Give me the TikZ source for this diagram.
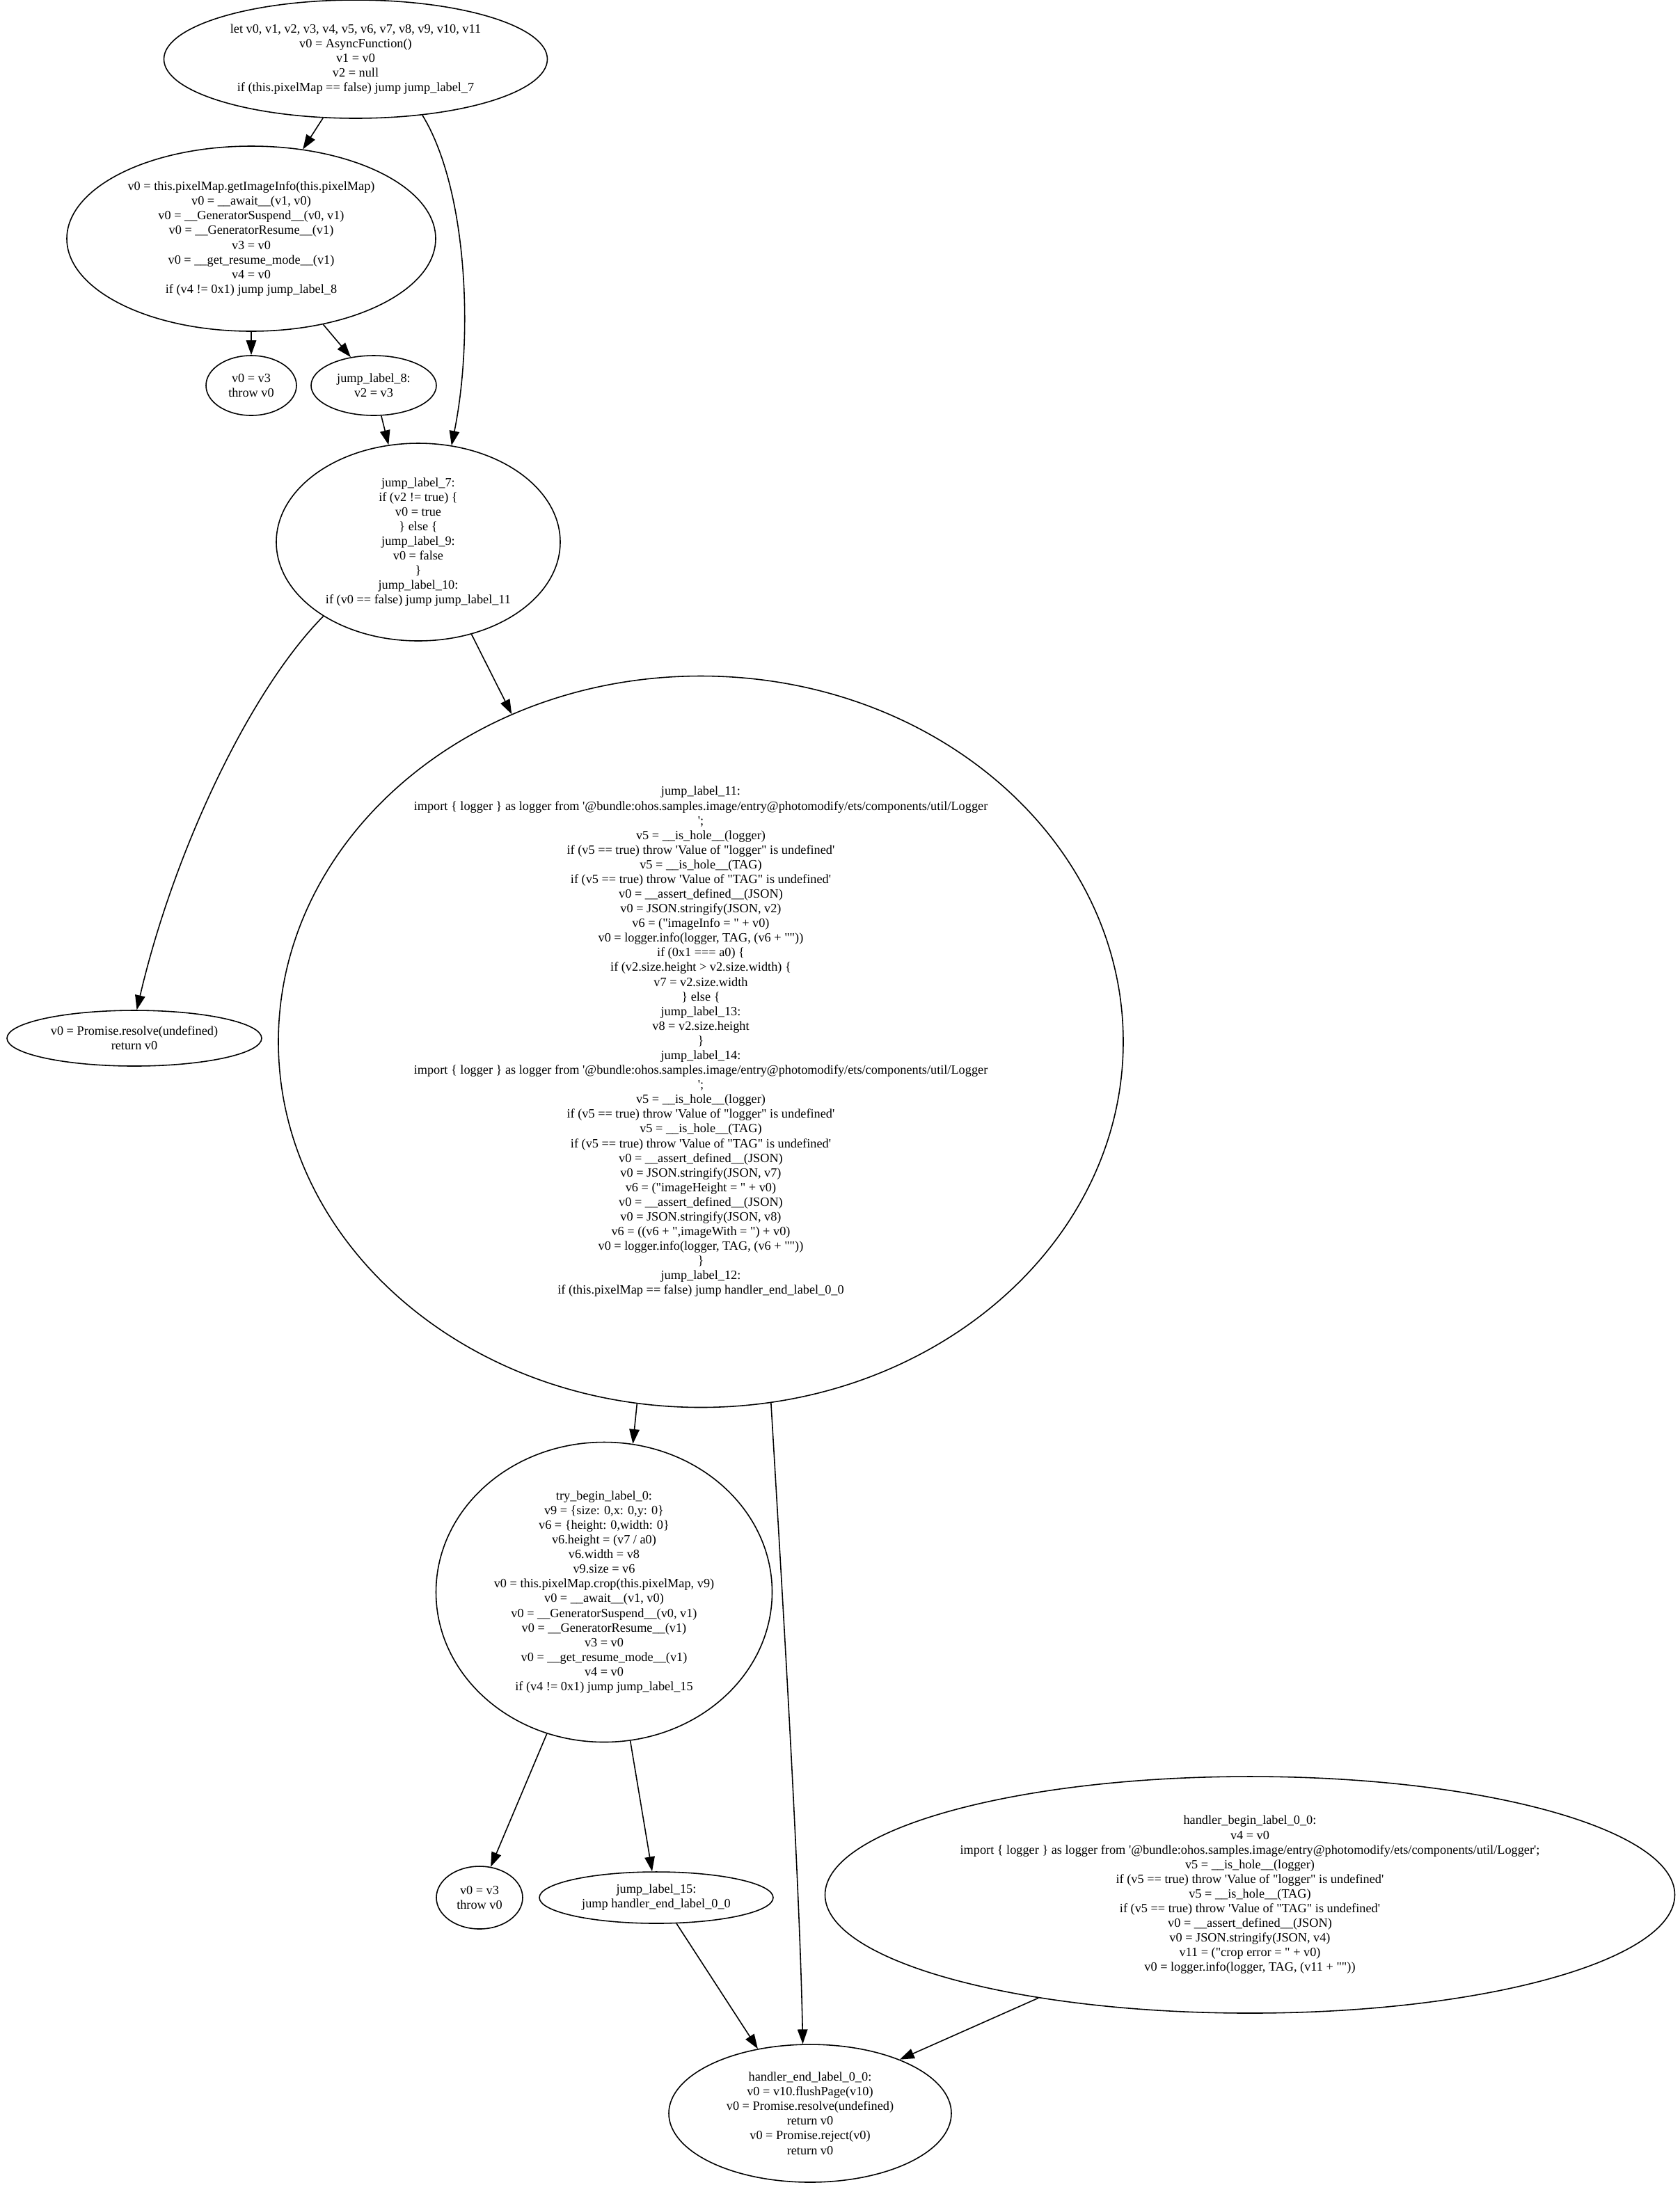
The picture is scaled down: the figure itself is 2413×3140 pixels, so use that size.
\documentclass[tikz,border=0pt]{standalone}
\usepackage{fontspec}
\setmainfont{Liberation Serif}[Ligatures=TeXOff]
\usetikzlibrary{positioning,arrows.meta,shapes.geometric}

\begin{document}
\begin{tikzpicture}[
  x=0.1mm,y=-0.1mm,
  blockh/.style={ellipse,draw,line width=0.45pt,inner sep=0pt,align=center,
    font=\fontsize{5.2}{6}\selectfont},
  edgeh/.style={line width=0.45pt,-{Triangle[length=2.1mm,width=1.45mm]}}
]
  \useasboundingbox (0,0) rectangle (2413,3140);

  \node[blockh,minimum width=55.1mm,minimum height=17mm] (start) at (511,85)
    {let v0, v1, v2, v3, v4, v5, v6, v7, v8, v9, v10, v11\\ v0 = AsyncFunction()\\ v1 = v0\\ v2 = null\\
     if (this.pixelMap == false) jump jump\_label\_7};
  \node[blockh,minimum width=53mm,minimum height=26.6mm] (gimg) at (361,343)
    {v0 = this.pixelMap.getImageInfo(this.pixelMap)\\ v0 = \_\_await\_\_(v1, v0)\\
     v0 = \_\_GeneratorSuspend\_\_(v0, v1)\\ v0 = \_\_GeneratorResume\_\_(v1)\\ v3 = v0\\
     v0 = \_\_get\_resume\_mode\_\_(v1)\\ v4 = v0\\ if (v4 != 0x1) jump jump\_label\_8};
  \node[blockh,minimum width=13mm,minimum height=8.6mm] (thra) at (361,554) {v0 = v3\\ throw v0};
  \node[blockh,minimum width=18mm,minimum height=8.6mm] (jlb8) at (537,554) {jump\_label\_8:\\ v2 = v3};
  \node[blockh,minimum width=40.8mm,minimum height=28.4mm] (jlb7) at (601,779)
    {jump\_label\_7:\\ if (v2 != true) \{\\ v0 = true\\ \} else \{\\ jump\_label\_9:\\ v0 = false\\ \}\\
     jump\_label\_10:\\ if (v0 == false) jump jump\_label\_11};
  \node[blockh,minimum width=36.6mm,minimum height=8mm] (resv) at (193,1492)
    {v0 = Promise.resolve(undefined)\\ return v0};
  \node[blockh,minimum width=121.4mm,minimum height=105.1mm] (jlb11) at (1007,1497)
    {jump\_label\_11:\\
     import \{ logger \} as logger from '@bundle:ohos.samples.image/entry@photomodify/ets/components/util/Logger\\ ';\\
     v5 = \_\_is\_hole\_\_(logger)\\ if (v5 == true) throw 'Value of "logger" is undefined'\\
     v5 = \_\_is\_hole\_\_(TAG)\\ if (v5 == true) throw 'Value of "TAG" is undefined'\\
     v0 = \_\_assert\_defined\_\_(JSON)\\ v0 = JSON.stringify(JSON, v2)\\ v6 = ("imageInfo = " + v0)\\
     v0 = logger.info(logger, TAG, (v6 + ""))\\ if (0x1 === a0) \{\\ if (v2.size.height > v2.size.width) \{\\
     v7 = v2.size.width\\ \} else \{\\ jump\_label\_13:\\ v8 = v2.size.height\\ \}\\ jump\_label\_14:\\
     import \{ logger \} as logger from '@bundle:ohos.samples.image/entry@photomodify/ets/components/util/Logger\\ ';\\
     v5 = \_\_is\_hole\_\_(logger)\\ if (v5 == true) throw 'Value of "logger" is undefined'\\
     v5 = \_\_is\_hole\_\_(TAG)\\ if (v5 == true) throw 'Value of "TAG" is undefined'\\
     v0 = \_\_assert\_defined\_\_(JSON)\\ v0 = JSON.stringify(JSON, v7)\\ v6 = ("imageHeight = " + v0)\\
     v0 = \_\_assert\_defined\_\_(JSON)\\ v0 = JSON.stringify(JSON, v8)\\ v6 = ((v6 + ",imageWith = ") + v0)\\
     v0 = logger.info(logger, TAG, (v6 + ""))\\ \}\\ jump\_label\_12:\\
     if (this.pixelMap == false) jump handler\_end\_label\_0\_0};
  \node[blockh,minimum width=48.3mm,minimum height=43.1mm] (tryb) at (868,2288)
    {try\_begin\_label\_0:\\ v9 = \{size: 0,x: 0,y: 0\}\\ v6 = \{height: 0,width: 0\}\\ v6.height = (v7 / a0)\\
     v6.width = v8\\ v9.size = v6\\ v0 = this.pixelMap.crop(this.pixelMap, v9)\\ v0 = \_\_await\_\_(v1, v0)\\
     v0 = \_\_GeneratorSuspend\_\_(v0, v1)\\ v0 = \_\_GeneratorResume\_\_(v1)\\ v3 = v0\\
     v0 = \_\_get\_resume\_mode\_\_(v1)\\ v4 = v0\\ if (v4 != 0x1) jump jump\_label\_15};
  \node[blockh,minimum width=12.4mm,minimum height=9mm] (thrb) at (689,2727) {v0 = v3\\ throw v0};
  \node[blockh,minimum width=33.6mm,minimum height=7.4mm] (jlb15) at (943,2727)
    {jump\_label\_15:\\ jump handler\_end\_label\_0\_0};
  \node[blockh,minimum width=122.1mm,minimum height=34mm] (hbeg) at (1796,2723)
    {handler\_begin\_label\_0\_0:\\ v4 = v0\\
     import \{ logger \} as logger from '@bundle:ohos.samples.image/entry@photomodify/ets/components/util/Logger';\\
     v5 = \_\_is\_hole\_\_(logger)\\ if (v5 == true) throw 'Value of "logger" is undefined'\\
     v5 = \_\_is\_hole\_\_(TAG)\\ if (v5 == true) throw 'Value of "TAG" is undefined'\\
     v0 = \_\_assert\_defined\_\_(JSON)\\ v0 = JSON.stringify(JSON, v4)\\ v11 = ("crop error = " + v0)\\
     v0 = logger.info(logger, TAG, (v11 + ""))};
  \node[blockh,minimum width=40.6mm,minimum height=19.8mm] (hend) at (1164,3037)
    {handler\_end\_label\_0\_0:\\ v0 = v10.flushPage(v10)\\ v0 = Promise.resolve(undefined)\\ return v0\\
     v0 = Promise.reject(v0)\\ return v0};

  % edges: from, angle, to, angle
  \foreach \a/\aa/\b/\bb in {%
    start/-119/gimg/60,
    gimg/-90/thra/90,
    gimg/-50/jlb8/129,
    jlb8/-76/jlb7/107,
    jlb7/-60/jlb11/120,
    jlb11/-100/tryb/79,
    tryb/-112/thrb/70,
    tryb/-80/jlb15/99,
    jlb15/-52/hend/129,
    hbeg/-154/hend/31%
  }{
    \draw[edgeh] (\a.\aa) -- (\b.\bb);
  }
  \draw[edgeh] (start.-40) .. controls (671,270) and (681,481) .. (jlb7.71);
  \draw[edgeh] (jlb7.-142) .. controls (360,991) and (250,1222) .. (resv.85);
  \draw[edgeh] (jlb11.-79) .. controls (1125,2303) and (1149,2703) .. (hend.96);
\end{tikzpicture}
\end{document}
